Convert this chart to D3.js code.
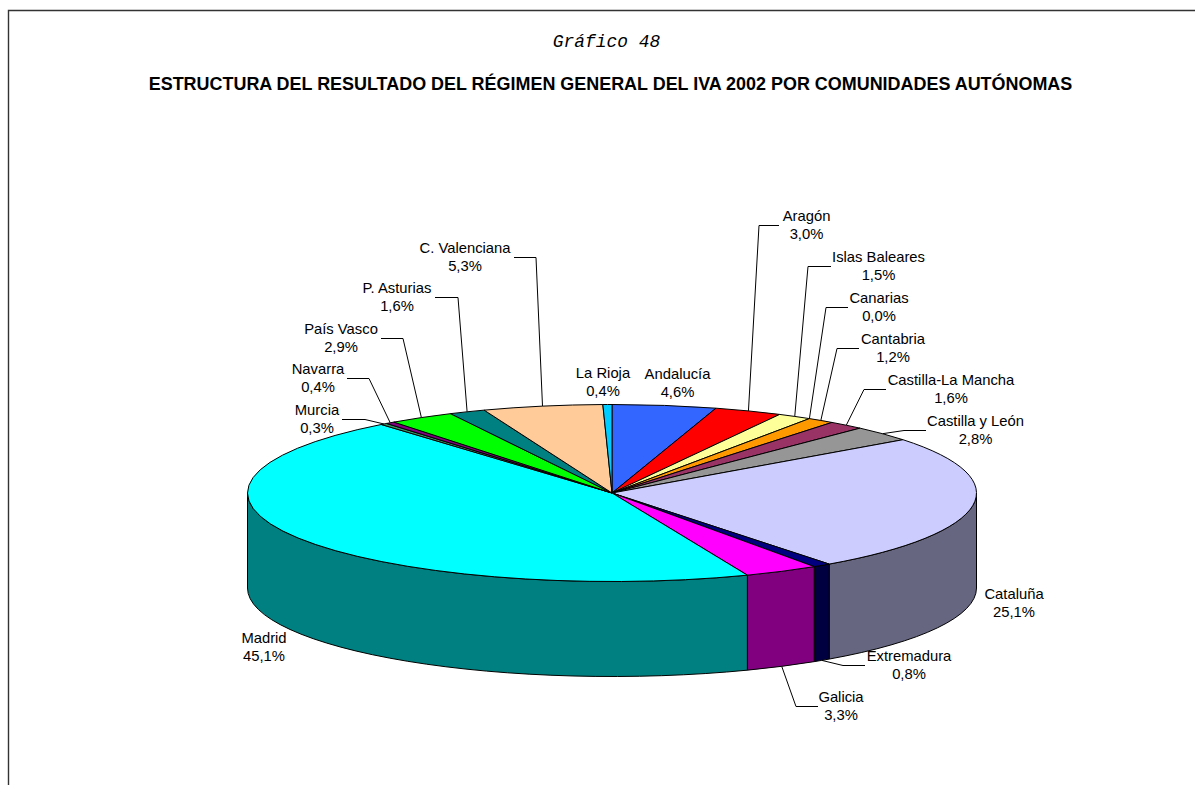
<!DOCTYPE html>
<html lang="es">
<head>
<meta charset="utf-8">
<title>Gráfico 48</title>
<script src="https://cdn.jsdelivr.net/npm/d3@7"></script>
<style>
html,body{margin:0;padding:0;background:#fff;overflow:hidden}
svg{display:block}
text{fill:#000}
.lab{font-family:"Liberation Sans",Arial,sans-serif;font-size:14.8px;text-anchor:middle}
</style>
</head>
<body>
<svg id="c" width="1195" height="785"></svg>
<script>
const subtitle = "Gráfico 48";
const title = "ESTRUCTURA DEL RESULTADO DEL RÉGIMEN GENERAL DEL IVA 2002 POR COMUNIDADES AUTÓNOMAS";
const regions = ["Andalucía","Aragón","Islas Baleares","Canarias","Cantabria","Castilla-La Mancha","Castilla y León","Cataluña","Extremadura","Galicia","Madrid","Murcia","Navarra","País Vasco","P. Asturias","C. Valenciana","La Rioja"];
const shares = [4.6,3.0,1.5,0.0,1.2,1.6,2.8,25.1,0.8,3.3,45.1,0.3,0.4,2.9,1.6,5.3,0.4];
const colours = ["#3366FF","#FF0000","#FFFF99","#FFFFCC","#FF9900","#993366","#969696","#CCCCFF","#000080","#FF00FF","#00FFFF","#339966","#800080","#00FF00","#008080","#FFCC99","#00CCFF"];
// label centre x, first-line baseline y, knee of the leader (x,y), leader start x; null = no leader
const labelX = [677.5,806.5,878.5,879,893,951,975.5,1014,909,841,264,317,318,341,397,465,603];
const labelY = [379,221,262,303,344,385,426,599,661,702,643,415,374,334,293,253,378];
const kneeX  = [null,759,808,826,837,864,904,null,843,796,null,365,369,403,458,536,null];
const startX = [null,779,831,848,859,886,926,null,865,818,null,342,347,381,435,514,null];

const cx = 612, cy = 493, rx = 364.5, ry = 88.5, depth = 95;
const svg = d3.select("#c");

// frame: open on right and bottom
svg.append("path").attr("d","M8.5,785V10.5H1195").attr("fill","none").attr("stroke","#333").attr("stroke-width",1.4);

svg.append("text").attr("x",606.5).attr("y",47).attr("text-anchor","middle")
  .style("font-family",'"Liberation Mono","Courier New",monospace').style("font-style","italic").style("font-size","17.9px").text(subtitle);
svg.append("text").attr("x",610.5).attr("y",90).attr("text-anchor","middle")
  .style("font-family",'"Liberation Sans",Arial,sans-serif').style("font-weight","bold").style("font-size","17.95px").text(title);

const pie = d3.pie().sort(null).value(d=>d.v).startAngle(0).endAngle(2*Math.PI);
const slices = pie(regions.map((n,i)=>({n,v:shares[i],c:colours[i],i})));
const px = a => cx + rx*Math.sin(a);
const py = a => cy - ry*Math.cos(a);
const arc = d3.arc().innerRadius(0).outerRadius(rx);

// side walls (only the part of each slice facing the viewer)
const lo = Math.PI/2, hi = 3*Math.PI/2;
const walls = slices.map(s=>({s,a0:Math.max(s.startAngle,lo),a1:Math.min(s.endAngle,hi)})).filter(w=>w.a1>w.a0);
svg.append("g").selectAll("path").data(walls).join("path")
  .attr("d",w=>`M${px(w.a0)},${py(w.a0)}A${rx},${ry} 0 0 1 ${px(w.a1)},${py(w.a1)}V${py(w.a1)+depth}A${rx},${ry} 0 0 0 ${px(w.a0)},${py(w.a0)+depth}Z`)
  .attr("fill",w=>{const c=d3.rgb(w.s.data.c);return d3.rgb(c.r*.5,c.g*.5,c.b*.5).formatHex();})
  .attr("stroke","#000").attr("stroke-width",1).attr("stroke-linejoin","round");

// top face
svg.append("g").attr("transform",`translate(${cx},${cy}) scale(1,${ry/rx})`)
  .selectAll("path").data(slices.filter(s=>s.data.v>0)).join("path")
  .attr("d",arc).attr("fill",s=>s.data.c)
  .attr("stroke","#000").attr("stroke-width",1).attr("vector-effect","non-scaling-stroke").attr("stroke-linejoin","round");

// leaders
const leaderG = svg.append("g").attr("fill","none").attr("stroke","#000").attr("stroke-width",1);
slices.forEach((s,i)=>{
  if(kneeX[i]===null) return;
  const m=(s.startAngle+s.endAngle)/2;
  const ly=labelY[i]+4.5;
  const front = m>lo && m<hi;
  leaderG.append("path").attr("d",`M${startX[i]},${ly}H${kneeX[i]}L${px(m)},${py(m)+(front?depth:0)}`);
});

// labels
const lg = svg.append("g");
slices.forEach((s,i)=>{
  const t=lg.append("text").attr("class","lab").attr("x",labelX[i]).attr("y",labelY[i]);
  t.append("tspan").attr("x",labelX[i]).text(s.data.n);
  t.append("tspan").attr("x",labelX[i]).attr("dy",17.6).text(s.data.v.toFixed(1).replace(".",",")+"%");
});
</script>
</body>
</html>
